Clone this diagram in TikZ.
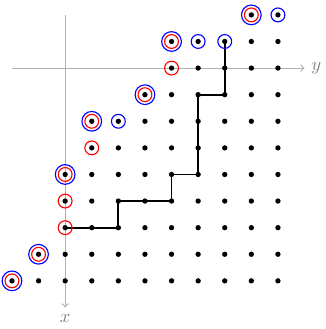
\documentclass[tikz,border=0pt]{standalone}
\usepackage{tikz}
\usetikzlibrary{positioning,arrows,calc,arrows.meta}
\tikzset{
	lattice/.style={x=0.5cm,y=0.5cm,>=to},
	dot/.style={circle,fill=black,inner sep=0pt,minimum size=1mm},
	redring/.style={circle,draw=red,semithick,inner sep=0pt,minimum size=0.26cm},
	bluering/.style={circle,draw=blue,semithick,inner sep=0pt,minimum size=0.26cm},
	bigring/.style={circle,draw=blue,semithick,inner sep=0pt,minimum size=0.37cm},
	axis/.style={->,gray!60,semithick},
	route/.style={line width=1pt,line join=round}
}
\usepackage{amsmath, amssymb}

\begin{document}
\begin{tikzpicture}[lattice]
\useasboundingbox (-2.45,2.56) rectangle (9.8,-9.81);

\coordinate (ytail) at (-2,0);
\coordinate (yhead) at (9,0);
\coordinate (xtail) at (0,2);
\coordinate (xhead) at (0,-9);
\draw[axis] (ytail) -- (yhead) node[right,text=gray] (ylabel) {$y$};
\draw[axis] (xtail) -- (xhead) node[below,text=gray] (xlabel) {$x$};

% lattice points, row by row
\foreach \r/\c in {-2/7,-1/4,0/4,1/3,2/1,3/1,4/0,5/0,6/0,7/-1,8/-2}
	\foreach \k in {\c,...,8}
		\node[dot] (p\k_\r) at (\k,-\r) {};

\draw[route] (p0_6.center) -- (p2_6.center) -- (p2_5.center) -- (p4_5.center)
	-- (p4_4.center) -- (p5_4.center) -- (p5_1.center) -- (p6_1.center)
	-- (p6_-1.center);

\foreach \k/\r in {7/-2,4/-1,4/0,3/1,1/2,1/3,0/4,0/5,0/6,-1/7,-2/8}
	\node[redring] (red\k_\r) at (p\k_\r) {};
\foreach \k/\r in {7/-2,4/-1,3/1,1/2,0/4,-1/7,-2/8}
	\node[bigring] (big\k_\r) at (p\k_\r) {};
\foreach \k/\r in {8/-2,5/-1,6/-1,2/2}
	\node[bluering] (blue\k_\r) at (p\k_\r) {};
\end{tikzpicture}
\end{document}
